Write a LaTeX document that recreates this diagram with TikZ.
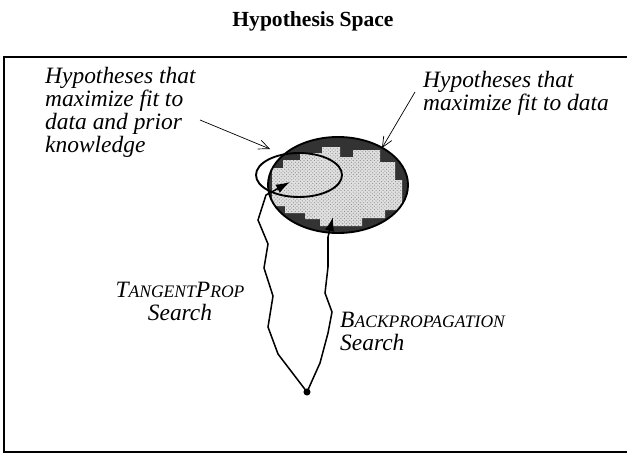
\documentclass[tikz,border=0pt]{standalone}
\usepackage{fontspec}
\setmainfont{Liberation Serif}
\usetikzlibrary{arrows.meta,positioning,calc,patterns}
\newcommand{\smc}[1]{{\fontsize{15}{15}\selectfont #1}}

\begin{document}
\begin{tikzpicture}[x=0.03cm,y=-0.03cm,
  lbl/.style={font=\fontsize{20}{19.6}\selectfont\itshape,align=left,inner sep=0pt},
  note/.style={-{Straight Barb[length=9pt,width=8pt]},line width=0.6pt},
  search/.style={line width=1.3pt,-{Latex[length=12pt,width=8pt]}},
  rim/.style={line width=1.6pt}]
\useasboundingbox (0,0) rectangle (627,454);
\node[font=\fontsize{18.4}{20}\selectfont\bfseries,anchor=base] (title) at (313,27) {Hypothesis Space};
\draw[line width=0.9pt] (627,57) -- (4,57) -- (4,452) -- (627,452);
\begin{scope}
\clip (338,185) ellipse [x radius=70,y radius=48];
\fill[black!80] (338,185) ellipse [x radius=70,y radius=48];
\fill[black!12] (272,206) -- (272,168) -- (283,168) -- (283,160) -- (300,160) -- (300,153) -- (322,153) -- (322,147) -- (340,147) -- (340,157) -- (353,157) -- (353,150) -- (380,150) -- (380,162) -- (395,162) -- (395,180) -- (402,180) -- (402,210) -- (385,210) -- (385,218) -- (362,218) -- (362,226) -- (320,226) -- (320,219) -- (305,219) -- (305,213) -- (285,213) -- (285,206) -- cycle;
\fill[pattern=crosshatch dots,pattern color=black!45] (272,206) -- (272,168) -- (283,168) -- (283,160) -- (300,160) -- (300,153) -- (322,153) -- (322,147) -- (340,147) -- (340,157) -- (353,157) -- (353,150) -- (380,150) -- (380,162) -- (395,162) -- (395,180) -- (402,180) -- (402,210) -- (385,210) -- (385,218) -- (362,218) -- (362,226) -- (320,226) -- (320,219) -- (305,219) -- (305,213) -- (285,213) -- (285,206) -- cycle;
\end{scope}
\draw[rim] (338,185) ellipse [x radius=70,y radius=48];
\draw[rim] (299,175) ellipse [x radius=43,y radius=22];
\coordinate (tpTip) at (290,182);
\coordinate (bpTip) at (333,217);
\coordinate (priorPt) at (270,149);
\coordinate (fitPt) at (382,148);
\coordinate (priorTail) at (200,120);
\coordinate (fitTail) at (415,92);
\node[circle,fill,inner sep=0pt,minimum size=6pt] (start) at (307,392) {};
\draw[search] (start.center) -- (278,354) -- (268,327) -- (273,296) -- (264,268) -- (268,244) -- (258,220) -- (266,195) -- (tpTip);
\draw[search] (start.center) -- (320,363) -- (328,333) -- (332,312) -- (325,293) -- (328,267) -- (328,237) -- (bpTip);
\node[lbl,anchor=north west] (prior) at (45,67) {Hypotheses that\\maximize fit to\\data and prior\\knowledge};
\node[lbl,anchor=north west] (fit) at (423,71) {Hypotheses that\\maximize fit to data};
\draw[note] (priorTail) -- (priorPt);
\draw[note] (fitTail) -- (fitPt);
\node[lbl,align=center,anchor=north] (tpLabel) at (180,282) {T\smc{ANGENT}P\smc{ROP}\\Search};
\node[lbl,anchor=north west] (bpLabel) at (340,312) {B\smc{ACKPROPAGATION}\\Search};
\end{tikzpicture}
\end{document}
